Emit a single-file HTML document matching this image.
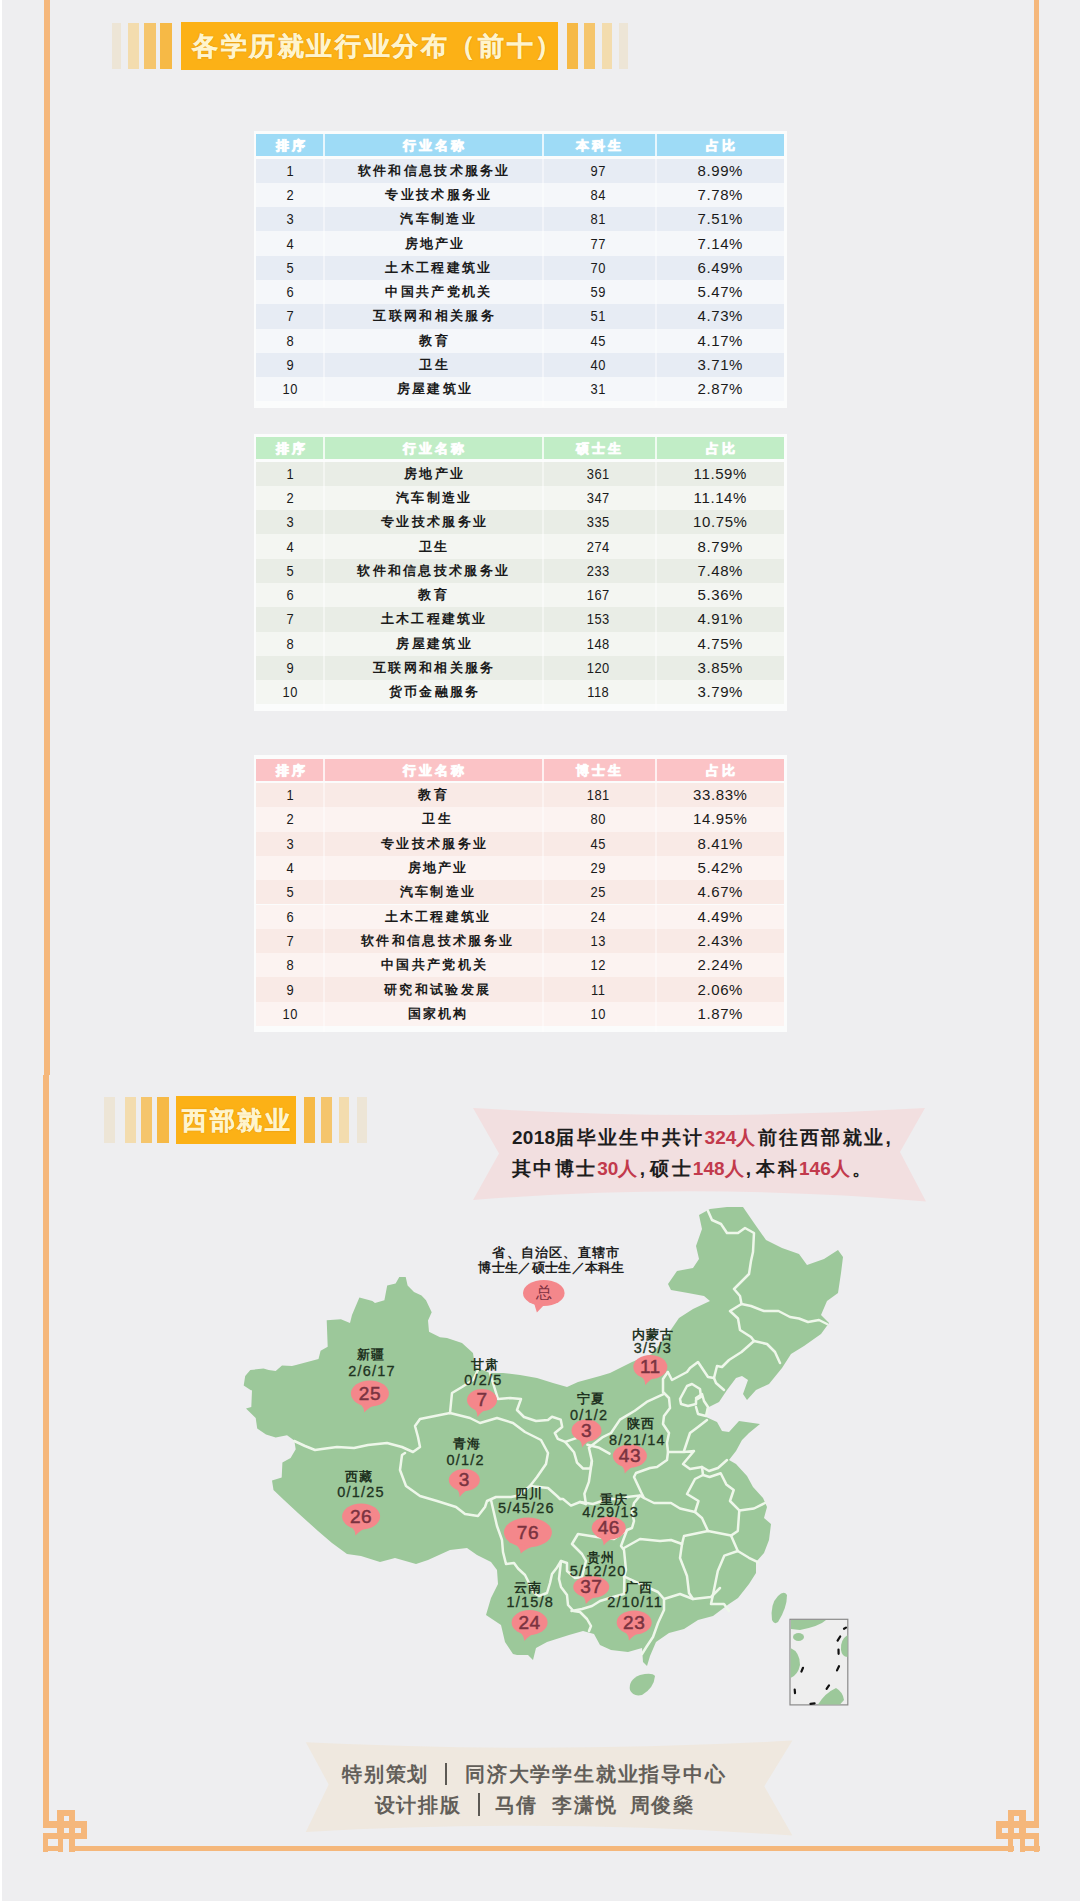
<!DOCTYPE html>
<html><head><meta charset="utf-8"><style>
html,body{margin:0;padding:0;}
body{width:1080px;height:1901px;position:relative;overflow:hidden;background:#eeeef0;font-family:"Liberation Sans", sans-serif;}
</style></head><body>
<div style="position:absolute;left:0px;top:0px;width:1.5px;height:1901px;background:#ffffff;"></div><div style="position:absolute;left:44px;top:0px;width:5.6px;height:1075px;background:#f5b77b;"></div><div style="position:absolute;left:43.3px;top:1075px;width:5.5px;height:753px;background:#f5b77b;"></div><div style="position:absolute;left:1033.8px;top:0px;width:5.6px;height:1828px;background:#f5b77b;"></div><div style="position:absolute;left:69px;top:1846.3px;width:945px;height:5.2px;background:#f5b77b;"></div><div style="position:absolute;left:112px;top:23px;width:9.3px;height:46px;background:#ede5d6;"></div><div style="position:absolute;left:128px;top:23px;width:11px;height:46px;background:#f3dcae;"></div><div style="position:absolute;left:144.4px;top:23px;width:11.2px;height:46px;background:#f5c56c;"></div><div style="position:absolute;left:160px;top:23px;width:12px;height:46px;background:#f6b946;"></div><div style="position:absolute;left:567px;top:23px;width:11px;height:46px;background:#f6b946;"></div><div style="position:absolute;left:584.4px;top:23px;width:10.6px;height:46px;background:#f5c56c;"></div><div style="position:absolute;left:601.7px;top:23px;width:10.3px;height:46px;background:#f3dcae;"></div><div style="position:absolute;left:619px;top:23px;width:9px;height:46px;background:#ede5d6;"></div><div style="position:absolute;left:181px;top:22px;width:377.3px;height:48px;background:#fcb116;"></div><div style="position:absolute;left:192px;top:33px;font-size:26px;line-height:26px;color:#fff4cc;font-weight:bold;-webkit-text-stroke:0.4px #fff4cc;text-shadow:0 0 1.5px rgba(150,80,0,0.6);letter-spacing:2.6px;white-space:nowrap">各学历就业行业分布（前十）</div><div style="position:absolute;left:104.3px;top:1097px;width:10.7px;height:46px;background:#ede5d6;"></div><div style="position:absolute;left:125px;top:1097px;width:10.7px;height:46px;background:#f3dcae;"></div><div style="position:absolute;left:141.3px;top:1097px;width:11.1px;height:46px;background:#f5c56c;"></div><div style="position:absolute;left:157.2px;top:1097px;width:11.4px;height:46px;background:#f6b946;"></div><div style="position:absolute;left:303.9px;top:1097px;width:11.1px;height:46px;background:#f6b946;"></div><div style="position:absolute;left:320.7px;top:1097px;width:11.2px;height:46px;background:#f5c56c;"></div><div style="position:absolute;left:338.5px;top:1097px;width:10.5px;height:46px;background:#f3dcae;"></div><div style="position:absolute;left:356.9px;top:1097px;width:10.1px;height:46px;background:#ede5d6;"></div><div style="position:absolute;left:175.6px;top:1096px;width:120.1px;height:48px;background:#fcb116;"></div><div style="position:absolute;left:182px;top:1108px;font-size:25px;line-height:25px;color:#fff4cc;font-weight:bold;-webkit-text-stroke:0.4px #fff4cc;text-shadow:0 0 1.5px rgba(150,80,0,0.6);letter-spacing:2.5px;white-space:nowrap">西部就业</div><div style="position:absolute;left:253.5px;top:130.5px;width:533px;height:277px;background:#fbfcfc;"></div><div style="position:absolute;left:256px;top:134px;width:528px;height:22px;background:#9edbf6;"></div><div style="position:absolute;left:256px;top:158.5px;width:528px;height:24.3px;background:#e7ecf4;"></div><div style="position:absolute;left:256px;top:182.8px;width:528px;height:24.3px;background:#f5f7fa;"></div><div style="position:absolute;left:256px;top:207.1px;width:528px;height:24.3px;background:#e7ecf4;"></div><div style="position:absolute;left:256px;top:231.4px;width:528px;height:24.3px;background:#f5f7fa;"></div><div style="position:absolute;left:256px;top:255.7px;width:528px;height:24.3px;background:#e7ecf4;"></div><div style="position:absolute;left:256px;top:280px;width:528px;height:24.3px;background:#f5f7fa;"></div><div style="position:absolute;left:256px;top:304.3px;width:528px;height:24.3px;background:#e7ecf4;"></div><div style="position:absolute;left:256px;top:328.6px;width:528px;height:24.3px;background:#f5f7fa;"></div><div style="position:absolute;left:256px;top:352.9px;width:528px;height:24.3px;background:#e7ecf4;"></div><div style="position:absolute;left:256px;top:377.2px;width:528px;height:24.3px;background:#f5f7fa;"></div><div style="position:absolute;left:323.2px;top:134px;width:1.6px;height:22px;background:rgba(255,255,255,0.75);"></div><div style="position:absolute;left:323.3px;top:158px;width:1.4px;height:249px;background:rgba(255,255,255,0.45);"></div><div style="position:absolute;left:542.2px;top:134px;width:1.6px;height:22px;background:rgba(255,255,255,0.75);"></div><div style="position:absolute;left:542.3px;top:158px;width:1.4px;height:249px;background:rgba(255,255,255,0.45);"></div><div style="position:absolute;left:655.2px;top:134px;width:1.6px;height:22px;background:rgba(255,255,255,0.75);"></div><div style="position:absolute;left:655.3px;top:158px;width:1.4px;height:249px;background:rgba(255,255,255,0.45);"></div><div style="position:absolute;left:190px;top:135.3px;width:200px;height:22px;line-height:22px;text-align:center;font-size:13px;color:#ffffff;white-space:nowrap;font-weight:bold;letter-spacing:3px;text-indent:3px;-webkit-text-stroke:0.5px #fff;text-shadow:0 0 1.5px rgba(255,255,255,0.8)">排序</div><div style="position:absolute;left:333px;top:135.3px;width:200px;height:22px;line-height:22px;text-align:center;font-size:13px;color:#ffffff;white-space:nowrap;font-weight:bold;letter-spacing:3px;text-indent:3px;-webkit-text-stroke:0.5px #fff;text-shadow:0 0 1.5px rgba(255,255,255,0.8)">行业名称</div><div style="position:absolute;left:498px;top:135.3px;width:200px;height:22px;line-height:22px;text-align:center;font-size:13px;color:#ffffff;white-space:nowrap;font-weight:bold;letter-spacing:3px;text-indent:3px;-webkit-text-stroke:0.5px #fff;text-shadow:0 0 1.5px rgba(255,255,255,0.8)">本科生</div><div style="position:absolute;left:620px;top:135.3px;width:200px;height:22px;line-height:22px;text-align:center;font-size:13px;color:#ffffff;white-space:nowrap;font-weight:bold;letter-spacing:3px;text-indent:3px;-webkit-text-stroke:0.5px #fff;text-shadow:0 0 1.5px rgba(255,255,255,0.8)">占比</div><div style="position:absolute;left:230px;top:158.65px;width:120px;height:24px;line-height:24px;text-align:center;font-size:15px;color:#1a1a1a;white-space:nowrap;letter-spacing:0.6px;text-indent:0.6px;transform:scaleX(0.86)">1</div><div style="position:absolute;left:323.1px;top:158.65px;width:220px;height:24px;line-height:24px;text-align:center;font-size:13px;color:#1a1a1a;white-space:nowrap;font-weight:bold;letter-spacing:2.3px;text-indent:2.3px">软件和信息技术服务业</div><div style="position:absolute;left:538px;top:158.65px;width:120px;height:24px;line-height:24px;text-align:center;font-size:15px;color:#1a1a1a;white-space:nowrap;letter-spacing:0.6px;text-indent:0.6px;transform:scaleX(0.86)">97</div><div style="position:absolute;left:660px;top:158.65px;width:120px;height:24px;line-height:24px;text-align:center;font-size:15px;color:#1a1a1a;white-space:nowrap;letter-spacing:0.6px;text-indent:0.6px">8.99%</div><div style="position:absolute;left:230px;top:182.95px;width:120px;height:24px;line-height:24px;text-align:center;font-size:15px;color:#1a1a1a;white-space:nowrap;letter-spacing:0.6px;text-indent:0.6px;transform:scaleX(0.86)">2</div><div style="position:absolute;left:327.9px;top:182.95px;width:220px;height:24px;line-height:24px;text-align:center;font-size:13px;color:#1a1a1a;white-space:nowrap;font-weight:bold;letter-spacing:2.3px;text-indent:2.3px">专业技术服务业</div><div style="position:absolute;left:538px;top:182.95px;width:120px;height:24px;line-height:24px;text-align:center;font-size:15px;color:#1a1a1a;white-space:nowrap;letter-spacing:0.6px;text-indent:0.6px;transform:scaleX(0.86)">84</div><div style="position:absolute;left:660px;top:182.95px;width:120px;height:24px;line-height:24px;text-align:center;font-size:15px;color:#1a1a1a;white-space:nowrap;letter-spacing:0.6px;text-indent:0.6px">7.78%</div><div style="position:absolute;left:230px;top:207.25px;width:120px;height:24px;line-height:24px;text-align:center;font-size:15px;color:#1a1a1a;white-space:nowrap;letter-spacing:0.6px;text-indent:0.6px;transform:scaleX(0.86)">3</div><div style="position:absolute;left:327.5px;top:207.25px;width:220px;height:24px;line-height:24px;text-align:center;font-size:13px;color:#1a1a1a;white-space:nowrap;font-weight:bold;letter-spacing:2.3px;text-indent:2.3px">汽车制造业</div><div style="position:absolute;left:538px;top:207.25px;width:120px;height:24px;line-height:24px;text-align:center;font-size:15px;color:#1a1a1a;white-space:nowrap;letter-spacing:0.6px;text-indent:0.6px;transform:scaleX(0.86)">81</div><div style="position:absolute;left:660px;top:207.25px;width:120px;height:24px;line-height:24px;text-align:center;font-size:15px;color:#1a1a1a;white-space:nowrap;letter-spacing:0.6px;text-indent:0.6px">7.51%</div><div style="position:absolute;left:230px;top:231.55px;width:120px;height:24px;line-height:24px;text-align:center;font-size:15px;color:#1a1a1a;white-space:nowrap;letter-spacing:0.6px;text-indent:0.6px;transform:scaleX(0.86)">4</div><div style="position:absolute;left:324px;top:231.55px;width:220px;height:24px;line-height:24px;text-align:center;font-size:13px;color:#1a1a1a;white-space:nowrap;font-weight:bold;letter-spacing:2.3px;text-indent:2.3px">房地产业</div><div style="position:absolute;left:538px;top:231.55px;width:120px;height:24px;line-height:24px;text-align:center;font-size:15px;color:#1a1a1a;white-space:nowrap;letter-spacing:0.6px;text-indent:0.6px;transform:scaleX(0.86)">77</div><div style="position:absolute;left:660px;top:231.55px;width:120px;height:24px;line-height:24px;text-align:center;font-size:15px;color:#1a1a1a;white-space:nowrap;letter-spacing:0.6px;text-indent:0.6px">7.14%</div><div style="position:absolute;left:230px;top:255.85px;width:120px;height:24px;line-height:24px;text-align:center;font-size:15px;color:#1a1a1a;white-space:nowrap;letter-spacing:0.6px;text-indent:0.6px;transform:scaleX(0.86)">5</div><div style="position:absolute;left:327.9px;top:255.85px;width:220px;height:24px;line-height:24px;text-align:center;font-size:13px;color:#1a1a1a;white-space:nowrap;font-weight:bold;letter-spacing:2.3px;text-indent:2.3px">土木工程建筑业</div><div style="position:absolute;left:538px;top:255.85px;width:120px;height:24px;line-height:24px;text-align:center;font-size:15px;color:#1a1a1a;white-space:nowrap;letter-spacing:0.6px;text-indent:0.6px;transform:scaleX(0.86)">70</div><div style="position:absolute;left:660px;top:255.85px;width:120px;height:24px;line-height:24px;text-align:center;font-size:15px;color:#1a1a1a;white-space:nowrap;letter-spacing:0.6px;text-indent:0.6px">6.49%</div><div style="position:absolute;left:230px;top:280.15px;width:120px;height:24px;line-height:24px;text-align:center;font-size:15px;color:#1a1a1a;white-space:nowrap;letter-spacing:0.6px;text-indent:0.6px;transform:scaleX(0.86)">6</div><div style="position:absolute;left:327.9px;top:280.15px;width:220px;height:24px;line-height:24px;text-align:center;font-size:13px;color:#1a1a1a;white-space:nowrap;font-weight:bold;letter-spacing:2.3px;text-indent:2.3px">中国共产党机关</div><div style="position:absolute;left:538px;top:280.15px;width:120px;height:24px;line-height:24px;text-align:center;font-size:15px;color:#1a1a1a;white-space:nowrap;letter-spacing:0.6px;text-indent:0.6px;transform:scaleX(0.86)">59</div><div style="position:absolute;left:660px;top:280.15px;width:120px;height:24px;line-height:24px;text-align:center;font-size:15px;color:#1a1a1a;white-space:nowrap;letter-spacing:0.6px;text-indent:0.6px">5.47%</div><div style="position:absolute;left:230px;top:304.45px;width:120px;height:24px;line-height:24px;text-align:center;font-size:15px;color:#1a1a1a;white-space:nowrap;letter-spacing:0.6px;text-indent:0.6px;transform:scaleX(0.86)">7</div><div style="position:absolute;left:323.5px;top:304.45px;width:220px;height:24px;line-height:24px;text-align:center;font-size:13px;color:#1a1a1a;white-space:nowrap;font-weight:bold;letter-spacing:2.3px;text-indent:2.3px">互联网和相关服务</div><div style="position:absolute;left:538px;top:304.45px;width:120px;height:24px;line-height:24px;text-align:center;font-size:15px;color:#1a1a1a;white-space:nowrap;letter-spacing:0.6px;text-indent:0.6px;transform:scaleX(0.86)">51</div><div style="position:absolute;left:660px;top:304.45px;width:120px;height:24px;line-height:24px;text-align:center;font-size:15px;color:#1a1a1a;white-space:nowrap;letter-spacing:0.6px;text-indent:0.6px">4.73%</div><div style="position:absolute;left:230px;top:328.75px;width:120px;height:24px;line-height:24px;text-align:center;font-size:15px;color:#1a1a1a;white-space:nowrap;letter-spacing:0.6px;text-indent:0.6px;transform:scaleX(0.86)">8</div><div style="position:absolute;left:323.5px;top:328.75px;width:220px;height:24px;line-height:24px;text-align:center;font-size:13px;color:#1a1a1a;white-space:nowrap;font-weight:bold;letter-spacing:2.3px;text-indent:2.3px">教育</div><div style="position:absolute;left:538px;top:328.75px;width:120px;height:24px;line-height:24px;text-align:center;font-size:15px;color:#1a1a1a;white-space:nowrap;letter-spacing:0.6px;text-indent:0.6px;transform:scaleX(0.86)">45</div><div style="position:absolute;left:660px;top:328.75px;width:120px;height:24px;line-height:24px;text-align:center;font-size:15px;color:#1a1a1a;white-space:nowrap;letter-spacing:0.6px;text-indent:0.6px">4.17%</div><div style="position:absolute;left:230px;top:353.05px;width:120px;height:24px;line-height:24px;text-align:center;font-size:15px;color:#1a1a1a;white-space:nowrap;letter-spacing:0.6px;text-indent:0.6px;transform:scaleX(0.86)">9</div><div style="position:absolute;left:323.5px;top:353.05px;width:220px;height:24px;line-height:24px;text-align:center;font-size:13px;color:#1a1a1a;white-space:nowrap;font-weight:bold;letter-spacing:2.3px;text-indent:2.3px">卫生</div><div style="position:absolute;left:538px;top:353.05px;width:120px;height:24px;line-height:24px;text-align:center;font-size:15px;color:#1a1a1a;white-space:nowrap;letter-spacing:0.6px;text-indent:0.6px;transform:scaleX(0.86)">40</div><div style="position:absolute;left:660px;top:353.05px;width:120px;height:24px;line-height:24px;text-align:center;font-size:15px;color:#1a1a1a;white-space:nowrap;letter-spacing:0.6px;text-indent:0.6px">3.71%</div><div style="position:absolute;left:230px;top:377.35px;width:120px;height:24px;line-height:24px;text-align:center;font-size:15px;color:#1a1a1a;white-space:nowrap;letter-spacing:0.6px;text-indent:0.6px;transform:scaleX(0.86)">10</div><div style="position:absolute;left:324px;top:377.35px;width:220px;height:24px;line-height:24px;text-align:center;font-size:13px;color:#1a1a1a;white-space:nowrap;font-weight:bold;letter-spacing:2.3px;text-indent:2.3px">房屋建筑业</div><div style="position:absolute;left:538px;top:377.35px;width:120px;height:24px;line-height:24px;text-align:center;font-size:15px;color:#1a1a1a;white-space:nowrap;letter-spacing:0.6px;text-indent:0.6px;transform:scaleX(0.86)">31</div><div style="position:absolute;left:660px;top:377.35px;width:120px;height:24px;line-height:24px;text-align:center;font-size:15px;color:#1a1a1a;white-space:nowrap;letter-spacing:0.6px;text-indent:0.6px">2.87%</div><div style="position:absolute;left:253.5px;top:433.5px;width:533px;height:277px;background:#fbfcfc;"></div><div style="position:absolute;left:256px;top:437px;width:528px;height:22px;background:#c1edc6;"></div><div style="position:absolute;left:256px;top:461.5px;width:528px;height:24.3px;background:#e9ede6;"></div><div style="position:absolute;left:256px;top:485.8px;width:528px;height:24.3px;background:#f4f6f2;"></div><div style="position:absolute;left:256px;top:510.1px;width:528px;height:24.3px;background:#e9ede6;"></div><div style="position:absolute;left:256px;top:534.4px;width:528px;height:24.3px;background:#f4f6f2;"></div><div style="position:absolute;left:256px;top:558.7px;width:528px;height:24.3px;background:#e9ede6;"></div><div style="position:absolute;left:256px;top:583px;width:528px;height:24.3px;background:#f4f6f2;"></div><div style="position:absolute;left:256px;top:607.3px;width:528px;height:24.3px;background:#e9ede6;"></div><div style="position:absolute;left:256px;top:631.6px;width:528px;height:24.3px;background:#f4f6f2;"></div><div style="position:absolute;left:256px;top:655.9px;width:528px;height:24.3px;background:#e9ede6;"></div><div style="position:absolute;left:256px;top:680.2px;width:528px;height:24.3px;background:#f4f6f2;"></div><div style="position:absolute;left:323.2px;top:437px;width:1.6px;height:22px;background:rgba(255,255,255,0.75);"></div><div style="position:absolute;left:323.3px;top:461px;width:1.4px;height:249px;background:rgba(255,255,255,0.45);"></div><div style="position:absolute;left:542.2px;top:437px;width:1.6px;height:22px;background:rgba(255,255,255,0.75);"></div><div style="position:absolute;left:542.3px;top:461px;width:1.4px;height:249px;background:rgba(255,255,255,0.45);"></div><div style="position:absolute;left:655.2px;top:437px;width:1.6px;height:22px;background:rgba(255,255,255,0.75);"></div><div style="position:absolute;left:655.3px;top:461px;width:1.4px;height:249px;background:rgba(255,255,255,0.45);"></div><div style="position:absolute;left:190px;top:438.3px;width:200px;height:22px;line-height:22px;text-align:center;font-size:13px;color:#ffffff;white-space:nowrap;font-weight:bold;letter-spacing:3px;text-indent:3px;-webkit-text-stroke:0.5px #fff;text-shadow:0 0 1.5px rgba(255,255,255,0.8)">排序</div><div style="position:absolute;left:333px;top:438.3px;width:200px;height:22px;line-height:22px;text-align:center;font-size:13px;color:#ffffff;white-space:nowrap;font-weight:bold;letter-spacing:3px;text-indent:3px;-webkit-text-stroke:0.5px #fff;text-shadow:0 0 1.5px rgba(255,255,255,0.8)">行业名称</div><div style="position:absolute;left:498px;top:438.3px;width:200px;height:22px;line-height:22px;text-align:center;font-size:13px;color:#ffffff;white-space:nowrap;font-weight:bold;letter-spacing:3px;text-indent:3px;-webkit-text-stroke:0.5px #fff;text-shadow:0 0 1.5px rgba(255,255,255,0.8)">硕士生</div><div style="position:absolute;left:620px;top:438.3px;width:200px;height:22px;line-height:22px;text-align:center;font-size:13px;color:#ffffff;white-space:nowrap;font-weight:bold;letter-spacing:3px;text-indent:3px;-webkit-text-stroke:0.5px #fff;text-shadow:0 0 1.5px rgba(255,255,255,0.8)">占比</div><div style="position:absolute;left:230px;top:461.65px;width:120px;height:24px;line-height:24px;text-align:center;font-size:15px;color:#1a1a1a;white-space:nowrap;letter-spacing:0.6px;text-indent:0.6px;transform:scaleX(0.86)">1</div><div style="position:absolute;left:323.5px;top:461.65px;width:220px;height:24px;line-height:24px;text-align:center;font-size:13px;color:#1a1a1a;white-space:nowrap;font-weight:bold;letter-spacing:2.3px;text-indent:2.3px">房地产业</div><div style="position:absolute;left:538px;top:461.65px;width:120px;height:24px;line-height:24px;text-align:center;font-size:15px;color:#1a1a1a;white-space:nowrap;letter-spacing:0.6px;text-indent:0.6px;transform:scaleX(0.86)">361</div><div style="position:absolute;left:660px;top:461.65px;width:120px;height:24px;line-height:24px;text-align:center;font-size:15px;color:#1a1a1a;white-space:nowrap;letter-spacing:0.6px;text-indent:0.6px">11.59%</div><div style="position:absolute;left:230px;top:485.95px;width:120px;height:24px;line-height:24px;text-align:center;font-size:15px;color:#1a1a1a;white-space:nowrap;letter-spacing:0.6px;text-indent:0.6px;transform:scaleX(0.86)">2</div><div style="position:absolute;left:323.1px;top:485.95px;width:220px;height:24px;line-height:24px;text-align:center;font-size:13px;color:#1a1a1a;white-space:nowrap;font-weight:bold;letter-spacing:2.3px;text-indent:2.3px">汽车制造业</div><div style="position:absolute;left:538px;top:485.95px;width:120px;height:24px;line-height:24px;text-align:center;font-size:15px;color:#1a1a1a;white-space:nowrap;letter-spacing:0.6px;text-indent:0.6px;transform:scaleX(0.86)">347</div><div style="position:absolute;left:660px;top:485.95px;width:120px;height:24px;line-height:24px;text-align:center;font-size:15px;color:#1a1a1a;white-space:nowrap;letter-spacing:0.6px;text-indent:0.6px">11.14%</div><div style="position:absolute;left:230px;top:510.25px;width:120px;height:24px;line-height:24px;text-align:center;font-size:15px;color:#1a1a1a;white-space:nowrap;letter-spacing:0.6px;text-indent:0.6px;transform:scaleX(0.86)">3</div><div style="position:absolute;left:323.5px;top:510.25px;width:220px;height:24px;line-height:24px;text-align:center;font-size:13px;color:#1a1a1a;white-space:nowrap;font-weight:bold;letter-spacing:2.3px;text-indent:2.3px">专业技术服务业</div><div style="position:absolute;left:538px;top:510.25px;width:120px;height:24px;line-height:24px;text-align:center;font-size:15px;color:#1a1a1a;white-space:nowrap;letter-spacing:0.6px;text-indent:0.6px;transform:scaleX(0.86)">335</div><div style="position:absolute;left:660px;top:510.25px;width:120px;height:24px;line-height:24px;text-align:center;font-size:15px;color:#1a1a1a;white-space:nowrap;letter-spacing:0.6px;text-indent:0.6px">10.75%</div><div style="position:absolute;left:230px;top:534.55px;width:120px;height:24px;line-height:24px;text-align:center;font-size:15px;color:#1a1a1a;white-space:nowrap;letter-spacing:0.6px;text-indent:0.6px;transform:scaleX(0.86)">4</div><div style="position:absolute;left:323.1px;top:534.55px;width:220px;height:24px;line-height:24px;text-align:center;font-size:13px;color:#1a1a1a;white-space:nowrap;font-weight:bold;letter-spacing:2.3px;text-indent:2.3px">卫生</div><div style="position:absolute;left:538px;top:534.55px;width:120px;height:24px;line-height:24px;text-align:center;font-size:15px;color:#1a1a1a;white-space:nowrap;letter-spacing:0.6px;text-indent:0.6px;transform:scaleX(0.86)">274</div><div style="position:absolute;left:660px;top:534.55px;width:120px;height:24px;line-height:24px;text-align:center;font-size:15px;color:#1a1a1a;white-space:nowrap;letter-spacing:0.6px;text-indent:0.6px">8.79%</div><div style="position:absolute;left:230px;top:558.85px;width:120px;height:24px;line-height:24px;text-align:center;font-size:15px;color:#1a1a1a;white-space:nowrap;letter-spacing:0.6px;text-indent:0.6px;transform:scaleX(0.86)">5</div><div style="position:absolute;left:322.6px;top:558.85px;width:220px;height:24px;line-height:24px;text-align:center;font-size:13px;color:#1a1a1a;white-space:nowrap;font-weight:bold;letter-spacing:2.3px;text-indent:2.3px">软件和信息技术服务业</div><div style="position:absolute;left:538px;top:558.85px;width:120px;height:24px;line-height:24px;text-align:center;font-size:15px;color:#1a1a1a;white-space:nowrap;letter-spacing:0.6px;text-indent:0.6px;transform:scaleX(0.86)">233</div><div style="position:absolute;left:660px;top:558.85px;width:120px;height:24px;line-height:24px;text-align:center;font-size:15px;color:#1a1a1a;white-space:nowrap;letter-spacing:0.6px;text-indent:0.6px">7.48%</div><div style="position:absolute;left:230px;top:583.15px;width:120px;height:24px;line-height:24px;text-align:center;font-size:15px;color:#1a1a1a;white-space:nowrap;letter-spacing:0.6px;text-indent:0.6px;transform:scaleX(0.86)">6</div><div style="position:absolute;left:322.5px;top:583.15px;width:220px;height:24px;line-height:24px;text-align:center;font-size:13px;color:#1a1a1a;white-space:nowrap;font-weight:bold;letter-spacing:2.3px;text-indent:2.3px">教育</div><div style="position:absolute;left:538px;top:583.15px;width:120px;height:24px;line-height:24px;text-align:center;font-size:15px;color:#1a1a1a;white-space:nowrap;letter-spacing:0.6px;text-indent:0.6px;transform:scaleX(0.86)">167</div><div style="position:absolute;left:660px;top:583.15px;width:120px;height:24px;line-height:24px;text-align:center;font-size:15px;color:#1a1a1a;white-space:nowrap;letter-spacing:0.6px;text-indent:0.6px">5.36%</div><div style="position:absolute;left:230px;top:607.45px;width:120px;height:24px;line-height:24px;text-align:center;font-size:15px;color:#1a1a1a;white-space:nowrap;letter-spacing:0.6px;text-indent:0.6px;transform:scaleX(0.86)">7</div><div style="position:absolute;left:323.1px;top:607.45px;width:220px;height:24px;line-height:24px;text-align:center;font-size:13px;color:#1a1a1a;white-space:nowrap;font-weight:bold;letter-spacing:2.3px;text-indent:2.3px">土木工程建筑业</div><div style="position:absolute;left:538px;top:607.45px;width:120px;height:24px;line-height:24px;text-align:center;font-size:15px;color:#1a1a1a;white-space:nowrap;letter-spacing:0.6px;text-indent:0.6px;transform:scaleX(0.86)">153</div><div style="position:absolute;left:660px;top:607.45px;width:120px;height:24px;line-height:24px;text-align:center;font-size:15px;color:#1a1a1a;white-space:nowrap;letter-spacing:0.6px;text-indent:0.6px">4.91%</div><div style="position:absolute;left:230px;top:631.75px;width:120px;height:24px;line-height:24px;text-align:center;font-size:15px;color:#1a1a1a;white-space:nowrap;letter-spacing:0.6px;text-indent:0.6px;transform:scaleX(0.86)">8</div><div style="position:absolute;left:323.5px;top:631.75px;width:220px;height:24px;line-height:24px;text-align:center;font-size:13px;color:#1a1a1a;white-space:nowrap;font-weight:bold;letter-spacing:2.3px;text-indent:2.3px">房屋建筑业</div><div style="position:absolute;left:538px;top:631.75px;width:120px;height:24px;line-height:24px;text-align:center;font-size:15px;color:#1a1a1a;white-space:nowrap;letter-spacing:0.6px;text-indent:0.6px;transform:scaleX(0.86)">148</div><div style="position:absolute;left:660px;top:631.75px;width:120px;height:24px;line-height:24px;text-align:center;font-size:15px;color:#1a1a1a;white-space:nowrap;letter-spacing:0.6px;text-indent:0.6px">4.75%</div><div style="position:absolute;left:230px;top:656.05px;width:120px;height:24px;line-height:24px;text-align:center;font-size:15px;color:#1a1a1a;white-space:nowrap;letter-spacing:0.6px;text-indent:0.6px;transform:scaleX(0.86)">9</div><div style="position:absolute;left:323.1px;top:656.05px;width:220px;height:24px;line-height:24px;text-align:center;font-size:13px;color:#1a1a1a;white-space:nowrap;font-weight:bold;letter-spacing:2.3px;text-indent:2.3px">互联网和相关服务</div><div style="position:absolute;left:538px;top:656.05px;width:120px;height:24px;line-height:24px;text-align:center;font-size:15px;color:#1a1a1a;white-space:nowrap;letter-spacing:0.6px;text-indent:0.6px;transform:scaleX(0.86)">120</div><div style="position:absolute;left:660px;top:656.05px;width:120px;height:24px;line-height:24px;text-align:center;font-size:15px;color:#1a1a1a;white-space:nowrap;letter-spacing:0.6px;text-indent:0.6px">3.85%</div><div style="position:absolute;left:230px;top:680.35px;width:120px;height:24px;line-height:24px;text-align:center;font-size:15px;color:#1a1a1a;white-space:nowrap;letter-spacing:0.6px;text-indent:0.6px;transform:scaleX(0.86)">10</div><div style="position:absolute;left:323.5px;top:680.35px;width:220px;height:24px;line-height:24px;text-align:center;font-size:13px;color:#1a1a1a;white-space:nowrap;font-weight:bold;letter-spacing:2.3px;text-indent:2.3px">货币金融服务</div><div style="position:absolute;left:538px;top:680.35px;width:120px;height:24px;line-height:24px;text-align:center;font-size:15px;color:#1a1a1a;white-space:nowrap;letter-spacing:0.6px;text-indent:0.6px;transform:scaleX(0.86)">118</div><div style="position:absolute;left:660px;top:680.35px;width:120px;height:24px;line-height:24px;text-align:center;font-size:15px;color:#1a1a1a;white-space:nowrap;letter-spacing:0.6px;text-indent:0.6px">3.79%</div><div style="position:absolute;left:253.5px;top:755px;width:533px;height:277px;background:#fbfcfc;"></div><div style="position:absolute;left:256px;top:758.5px;width:528px;height:22px;background:#fbc3c6;"></div><div style="position:absolute;left:256px;top:783px;width:528px;height:24.3px;background:#f9eae6;"></div><div style="position:absolute;left:256px;top:807.3px;width:528px;height:24.3px;background:#fcf3f1;"></div><div style="position:absolute;left:256px;top:831.6px;width:528px;height:24.3px;background:#f9eae6;"></div><div style="position:absolute;left:256px;top:855.9px;width:528px;height:24.3px;background:#fcf3f1;"></div><div style="position:absolute;left:256px;top:880.2px;width:528px;height:24.3px;background:#f9eae6;"></div><div style="position:absolute;left:256px;top:904.5px;width:528px;height:24.3px;background:#fcf3f1;"></div><div style="position:absolute;left:256px;top:928.8px;width:528px;height:24.3px;background:#f9eae6;"></div><div style="position:absolute;left:256px;top:953.1px;width:528px;height:24.3px;background:#fcf3f1;"></div><div style="position:absolute;left:256px;top:977.4px;width:528px;height:24.3px;background:#f9eae6;"></div><div style="position:absolute;left:256px;top:1001.7px;width:528px;height:24.3px;background:#fcf3f1;"></div><div style="position:absolute;left:323.2px;top:758.5px;width:1.6px;height:22px;background:rgba(255,255,255,0.75);"></div><div style="position:absolute;left:323.3px;top:782.5px;width:1.4px;height:249px;background:rgba(255,255,255,0.45);"></div><div style="position:absolute;left:542.2px;top:758.5px;width:1.6px;height:22px;background:rgba(255,255,255,0.75);"></div><div style="position:absolute;left:542.3px;top:782.5px;width:1.4px;height:249px;background:rgba(255,255,255,0.45);"></div><div style="position:absolute;left:655.2px;top:758.5px;width:1.6px;height:22px;background:rgba(255,255,255,0.75);"></div><div style="position:absolute;left:655.3px;top:782.5px;width:1.4px;height:249px;background:rgba(255,255,255,0.45);"></div><div style="position:absolute;left:190px;top:759.8px;width:200px;height:22px;line-height:22px;text-align:center;font-size:13px;color:#ffffff;white-space:nowrap;font-weight:bold;letter-spacing:3px;text-indent:3px;-webkit-text-stroke:0.5px #fff;text-shadow:0 0 1.5px rgba(255,255,255,0.8)">排序</div><div style="position:absolute;left:333px;top:759.8px;width:200px;height:22px;line-height:22px;text-align:center;font-size:13px;color:#ffffff;white-space:nowrap;font-weight:bold;letter-spacing:3px;text-indent:3px;-webkit-text-stroke:0.5px #fff;text-shadow:0 0 1.5px rgba(255,255,255,0.8)">行业名称</div><div style="position:absolute;left:498px;top:759.8px;width:200px;height:22px;line-height:22px;text-align:center;font-size:13px;color:#ffffff;white-space:nowrap;font-weight:bold;letter-spacing:3px;text-indent:3px;-webkit-text-stroke:0.5px #fff;text-shadow:0 0 1.5px rgba(255,255,255,0.8)">博士生</div><div style="position:absolute;left:620px;top:759.8px;width:200px;height:22px;line-height:22px;text-align:center;font-size:13px;color:#ffffff;white-space:nowrap;font-weight:bold;letter-spacing:3px;text-indent:3px;-webkit-text-stroke:0.5px #fff;text-shadow:0 0 1.5px rgba(255,255,255,0.8)">占比</div><div style="position:absolute;left:230px;top:783.15px;width:120px;height:24px;line-height:24px;text-align:center;font-size:15px;color:#1a1a1a;white-space:nowrap;letter-spacing:0.6px;text-indent:0.6px;transform:scaleX(0.86)">1</div><div style="position:absolute;left:322.6px;top:783.15px;width:220px;height:24px;line-height:24px;text-align:center;font-size:13px;color:#1a1a1a;white-space:nowrap;font-weight:bold;letter-spacing:2.3px;text-indent:2.3px">教育</div><div style="position:absolute;left:538px;top:783.15px;width:120px;height:24px;line-height:24px;text-align:center;font-size:15px;color:#1a1a1a;white-space:nowrap;letter-spacing:0.6px;text-indent:0.6px;transform:scaleX(0.86)">181</div><div style="position:absolute;left:660px;top:783.15px;width:120px;height:24px;line-height:24px;text-align:center;font-size:15px;color:#1a1a1a;white-space:nowrap;letter-spacing:0.6px;text-indent:0.6px">33.83%</div><div style="position:absolute;left:230px;top:807.45px;width:120px;height:24px;line-height:24px;text-align:center;font-size:15px;color:#1a1a1a;white-space:nowrap;letter-spacing:0.6px;text-indent:0.6px;transform:scaleX(0.86)">2</div><div style="position:absolute;left:326.5px;top:807.45px;width:220px;height:24px;line-height:24px;text-align:center;font-size:13px;color:#1a1a1a;white-space:nowrap;font-weight:bold;letter-spacing:2.3px;text-indent:2.3px">卫生</div><div style="position:absolute;left:538px;top:807.45px;width:120px;height:24px;line-height:24px;text-align:center;font-size:15px;color:#1a1a1a;white-space:nowrap;letter-spacing:0.6px;text-indent:0.6px;transform:scaleX(0.86)">80</div><div style="position:absolute;left:660px;top:807.45px;width:120px;height:24px;line-height:24px;text-align:center;font-size:15px;color:#1a1a1a;white-space:nowrap;letter-spacing:0.6px;text-indent:0.6px">14.95%</div><div style="position:absolute;left:230px;top:831.75px;width:120px;height:24px;line-height:24px;text-align:center;font-size:15px;color:#1a1a1a;white-space:nowrap;letter-spacing:0.6px;text-indent:0.6px;transform:scaleX(0.86)">3</div><div style="position:absolute;left:323.5px;top:831.75px;width:220px;height:24px;line-height:24px;text-align:center;font-size:13px;color:#1a1a1a;white-space:nowrap;font-weight:bold;letter-spacing:2.3px;text-indent:2.3px">专业技术服务业</div><div style="position:absolute;left:538px;top:831.75px;width:120px;height:24px;line-height:24px;text-align:center;font-size:15px;color:#1a1a1a;white-space:nowrap;letter-spacing:0.6px;text-indent:0.6px;transform:scaleX(0.86)">45</div><div style="position:absolute;left:660px;top:831.75px;width:120px;height:24px;line-height:24px;text-align:center;font-size:15px;color:#1a1a1a;white-space:nowrap;letter-spacing:0.6px;text-indent:0.6px">8.41%</div><div style="position:absolute;left:230px;top:856.05px;width:120px;height:24px;line-height:24px;text-align:center;font-size:15px;color:#1a1a1a;white-space:nowrap;letter-spacing:0.6px;text-indent:0.6px;transform:scaleX(0.86)">4</div><div style="position:absolute;left:327px;top:856.05px;width:220px;height:24px;line-height:24px;text-align:center;font-size:13px;color:#1a1a1a;white-space:nowrap;font-weight:bold;letter-spacing:2.3px;text-indent:2.3px">房地产业</div><div style="position:absolute;left:538px;top:856.05px;width:120px;height:24px;line-height:24px;text-align:center;font-size:15px;color:#1a1a1a;white-space:nowrap;letter-spacing:0.6px;text-indent:0.6px;transform:scaleX(0.86)">29</div><div style="position:absolute;left:660px;top:856.05px;width:120px;height:24px;line-height:24px;text-align:center;font-size:15px;color:#1a1a1a;white-space:nowrap;letter-spacing:0.6px;text-indent:0.6px">5.42%</div><div style="position:absolute;left:230px;top:880.35px;width:120px;height:24px;line-height:24px;text-align:center;font-size:15px;color:#1a1a1a;white-space:nowrap;letter-spacing:0.6px;text-indent:0.6px;transform:scaleX(0.86)">5</div><div style="position:absolute;left:327px;top:880.35px;width:220px;height:24px;line-height:24px;text-align:center;font-size:13px;color:#1a1a1a;white-space:nowrap;font-weight:bold;letter-spacing:2.3px;text-indent:2.3px">汽车制造业</div><div style="position:absolute;left:538px;top:880.35px;width:120px;height:24px;line-height:24px;text-align:center;font-size:15px;color:#1a1a1a;white-space:nowrap;letter-spacing:0.6px;text-indent:0.6px;transform:scaleX(0.86)">25</div><div style="position:absolute;left:660px;top:880.35px;width:120px;height:24px;line-height:24px;text-align:center;font-size:15px;color:#1a1a1a;white-space:nowrap;letter-spacing:0.6px;text-indent:0.6px">4.67%</div><div style="position:absolute;left:230px;top:904.65px;width:120px;height:24px;line-height:24px;text-align:center;font-size:15px;color:#1a1a1a;white-space:nowrap;letter-spacing:0.6px;text-indent:0.6px;transform:scaleX(0.86)">6</div><div style="position:absolute;left:327px;top:904.65px;width:220px;height:24px;line-height:24px;text-align:center;font-size:13px;color:#1a1a1a;white-space:nowrap;font-weight:bold;letter-spacing:2.3px;text-indent:2.3px">土木工程建筑业</div><div style="position:absolute;left:538px;top:904.65px;width:120px;height:24px;line-height:24px;text-align:center;font-size:15px;color:#1a1a1a;white-space:nowrap;letter-spacing:0.6px;text-indent:0.6px;transform:scaleX(0.86)">24</div><div style="position:absolute;left:660px;top:904.65px;width:120px;height:24px;line-height:24px;text-align:center;font-size:15px;color:#1a1a1a;white-space:nowrap;letter-spacing:0.6px;text-indent:0.6px">4.49%</div><div style="position:absolute;left:230px;top:928.95px;width:120px;height:24px;line-height:24px;text-align:center;font-size:15px;color:#1a1a1a;white-space:nowrap;letter-spacing:0.6px;text-indent:0.6px;transform:scaleX(0.86)">7</div><div style="position:absolute;left:326.5px;top:928.95px;width:220px;height:24px;line-height:24px;text-align:center;font-size:13px;color:#1a1a1a;white-space:nowrap;font-weight:bold;letter-spacing:2.3px;text-indent:2.3px">软件和信息技术服务业</div><div style="position:absolute;left:538px;top:928.95px;width:120px;height:24px;line-height:24px;text-align:center;font-size:15px;color:#1a1a1a;white-space:nowrap;letter-spacing:0.6px;text-indent:0.6px;transform:scaleX(0.86)">13</div><div style="position:absolute;left:660px;top:928.95px;width:120px;height:24px;line-height:24px;text-align:center;font-size:15px;color:#1a1a1a;white-space:nowrap;letter-spacing:0.6px;text-indent:0.6px">2.43%</div><div style="position:absolute;left:230px;top:953.25px;width:120px;height:24px;line-height:24px;text-align:center;font-size:15px;color:#1a1a1a;white-space:nowrap;letter-spacing:0.6px;text-indent:0.6px;transform:scaleX(0.86)">8</div><div style="position:absolute;left:323.5px;top:953.25px;width:220px;height:24px;line-height:24px;text-align:center;font-size:13px;color:#1a1a1a;white-space:nowrap;font-weight:bold;letter-spacing:2.3px;text-indent:2.3px">中国共产党机关</div><div style="position:absolute;left:538px;top:953.25px;width:120px;height:24px;line-height:24px;text-align:center;font-size:15px;color:#1a1a1a;white-space:nowrap;letter-spacing:0.6px;text-indent:0.6px;transform:scaleX(0.86)">12</div><div style="position:absolute;left:660px;top:953.25px;width:120px;height:24px;line-height:24px;text-align:center;font-size:15px;color:#1a1a1a;white-space:nowrap;letter-spacing:0.6px;text-indent:0.6px">2.24%</div><div style="position:absolute;left:230px;top:977.55px;width:120px;height:24px;line-height:24px;text-align:center;font-size:15px;color:#1a1a1a;white-space:nowrap;letter-spacing:0.6px;text-indent:0.6px;transform:scaleX(0.86)">9</div><div style="position:absolute;left:326.5px;top:977.55px;width:220px;height:24px;line-height:24px;text-align:center;font-size:13px;color:#1a1a1a;white-space:nowrap;font-weight:bold;letter-spacing:2.3px;text-indent:2.3px">研究和试验发展</div><div style="position:absolute;left:538px;top:977.55px;width:120px;height:24px;line-height:24px;text-align:center;font-size:15px;color:#1a1a1a;white-space:nowrap;letter-spacing:0.6px;text-indent:0.6px;transform:scaleX(0.86)">11</div><div style="position:absolute;left:660px;top:977.55px;width:120px;height:24px;line-height:24px;text-align:center;font-size:15px;color:#1a1a1a;white-space:nowrap;letter-spacing:0.6px;text-indent:0.6px">2.06%</div><div style="position:absolute;left:230px;top:1001.85px;width:120px;height:24px;line-height:24px;text-align:center;font-size:15px;color:#1a1a1a;white-space:nowrap;letter-spacing:0.6px;text-indent:0.6px;transform:scaleX(0.86)">10</div><div style="position:absolute;left:327px;top:1001.85px;width:220px;height:24px;line-height:24px;text-align:center;font-size:13px;color:#1a1a1a;white-space:nowrap;font-weight:bold;letter-spacing:2.3px;text-indent:2.3px">国家机构</div><div style="position:absolute;left:538px;top:1001.85px;width:120px;height:24px;line-height:24px;text-align:center;font-size:15px;color:#1a1a1a;white-space:nowrap;letter-spacing:0.6px;text-indent:0.6px;transform:scaleX(0.86)">10</div><div style="position:absolute;left:660px;top:1001.85px;width:120px;height:24px;line-height:24px;text-align:center;font-size:15px;color:#1a1a1a;white-space:nowrap;letter-spacing:0.6px;text-indent:0.6px">1.87%</div>
<svg width="1080" height="1901" style="position:absolute;left:0;top:0"><path d="M473,1108 Q699,1122 925,1108 L900,1152 L926,1201.5 Q699,1182 473,1200 L499,1153.5 Z" fill="#f2dfe0"/><path d="M305.8,1742.3 Q549,1754 792.4,1740.6 L764.3,1786.3 L792.4,1835.6 Q549,1818 305.8,1832 L328.7,1784.5 Z" fill="#efe8df"/><polygon points="243.7,1385.4 245.2,1376 250.3,1370 263.5,1368.6 268.6,1370 275.7,1371 282,1365.5 292,1366 296,1365 318.5,1359 320.6,1350.7 327.7,1346.7 326.7,1320.2 340.9,1319.2 350,1323 352,1315 359.4,1297.4 372.4,1301 375,1303 384.4,1300.2 387.2,1285.4 395.6,1283.5 399.3,1277 405.7,1277 407.6,1285.4 414,1291.9 421.5,1295.6 426,1300.2 431.7,1312.2 428,1320.6 429,1331.7 440,1337.2 447,1338 462,1343 473,1353 475,1367 490,1373 503,1373 520,1375 537,1378 553,1383 567,1387 578,1382 600,1376 610,1373 632,1362 652,1354 668,1334 679,1318 693,1309 710,1301 704,1296 688,1293 671,1290 668,1284 677,1271 693,1268 699,1259 696,1246 702,1229 699,1215 710,1209 727,1207 743,1207 754,1223 766,1240 782,1248 799,1254 807,1265 824,1259 838,1250 843,1257 841,1273 838,1293 827,1301 821,1315 829,1323 821,1334 804,1346 791,1354 782,1368 769,1384 756,1390 747,1400 743,1394 748,1380 742,1376 736,1378 727,1390 719,1402 707,1408 706,1417 717,1422 722,1431 729,1432 739,1421 760,1424 749,1433 742,1440 736,1451 729,1460 736,1464 747,1476 753,1487 763,1498 767,1507 764,1518 771,1524 769,1540 764,1553 756,1562 756,1573 749,1584 738,1598 729,1604 713,1616 698,1620 684,1629 669,1633 656,1642 650,1656 647,1666 643,1662 642,1648 628,1652 611,1650 600,1645 594,1634 583,1631 569,1635 547,1642 536,1648 533,1660 528,1655 517,1655 513,1654 505,1642 501,1625 486,1615 491,1598 498,1584 497,1570 491,1562 477,1555 467,1548 450,1550 428,1560 416,1564 395,1558 380,1562 361,1556 347,1554 332,1543 318,1531 298,1513 284,1500 273.5,1490 272,1480.4 281.7,1477.4 282.4,1462.6 290.6,1458 295.7,1449.3 294.3,1440.4 287,1435.2 275.7,1437.4 266,1434.4 257.2,1428.5 255.7,1418 246,1408.5 251.3,1407 252,1390 251.3,1390.5" fill="#9cc89a"/><polyline points="294.3,1441 305,1446 315,1450 322,1449 337,1447 354,1448 368,1445 387,1443 402,1447 413,1452 420,1447 418,1437 415,1426 420,1419 435,1416 450,1413" fill="none" stroke="#eef7ea" stroke-width="2.5" stroke-linejoin="round" stroke-linecap="round"/><polyline points="450,1413 452,1393 462,1387 473,1380 478,1370" fill="none" stroke="#eef7ea" stroke-width="2.5" stroke-linejoin="round" stroke-linecap="round"/><polyline points="405,1453 402,1455 400,1470 406,1486 420,1496 437,1501 456,1507 465,1514 478,1516 485,1507 487,1501 496,1497 511,1497 518.5,1495.6 530,1486 537,1477 546,1464 548,1453 541,1440 525,1432 513,1423 497,1418 480,1423 470,1418 450,1413" fill="none" stroke="#eef7ea" stroke-width="2.5" stroke-linejoin="round" stroke-linecap="round"/><polyline points="490,1373 493,1383 498,1399 510,1398 521,1399 517,1410 524,1417 536,1421 548,1420 552,1416.7 560.7,1419.6 562.2,1427 554.8,1433 557.8,1438.9 565.2,1441.9 574,1452.2 577,1462.6 583,1468.5 590.4,1468.5 591.9,1461 588.9,1447.8 596.3,1441.9 602.2,1437.4 611,1433 620,1419.6 634.8,1410.7 646.7,1401.9 663,1394.4" fill="none" stroke="#eef7ea" stroke-width="2.5" stroke-linejoin="round" stroke-linecap="round"/><polyline points="565.2,1441.9 574,1438.9 578.5,1437.4" fill="none" stroke="#eef7ea" stroke-width="2.5" stroke-linejoin="round" stroke-linecap="round"/><polyline points="591.9,1461 588.9,1481.9 584.4,1493.7 585.9,1504" fill="none" stroke="#eef7ea" stroke-width="2.5" stroke-linejoin="round" stroke-linecap="round"/><polyline points="587.4,1444.8 599.3,1447.8 609.6,1453.7" fill="none" stroke="#eef7ea" stroke-width="2.5" stroke-linejoin="round" stroke-linecap="round"/><polyline points="667.8,1372 663,1379 663,1392 669,1398 670,1408 664,1416 663,1424 669,1433 667,1443 668,1452 667,1460 657,1467 650,1468 636,1473 634,1477 641,1492 644,1498 654,1503 671,1503 680,1508.5 695,1512 702,1518 708,1531" fill="none" stroke="#eef7ea" stroke-width="2.5" stroke-linejoin="round" stroke-linecap="round"/><polyline points="667.8,1372 672,1380 687,1372 690,1368 698,1362 704,1371 708,1377 714,1378 717,1366 722,1367 729,1360 741.5,1352 754,1341" fill="none" stroke="#eef7ea" stroke-width="2.5" stroke-linejoin="round" stroke-linecap="round"/><polyline points="754,1341 751,1337 740,1330 738,1318.5 730,1311 741.5,1304 740,1296 734,1289 749,1274 751,1261 753,1252 754,1233 745,1228 738,1233 727,1233 721,1224 712,1220 708,1211" fill="none" stroke="#eef7ea" stroke-width="2.5" stroke-linejoin="round" stroke-linecap="round"/><polyline points="741.5,1304 751,1306 764,1311 778.5,1311 790,1317 799,1318.5 808,1322 819,1320 827,1324" fill="none" stroke="#eef7ea" stroke-width="2.5" stroke-linejoin="round" stroke-linecap="round"/><polyline points="754,1341 767,1344 775,1352 780,1363" fill="none" stroke="#eef7ea" stroke-width="2.5" stroke-linejoin="round" stroke-linecap="round"/><polyline points="714,1378 716,1383 724,1390" fill="none" stroke="#eef7ea" stroke-width="2.5" stroke-linejoin="round" stroke-linecap="round"/><polyline points="680,1399 687,1386 692,1384 700,1389 701,1397 696,1400 696,1404 688,1406 681,1404 680,1399" fill="none" stroke="#eef7ea" stroke-width="2.5" stroke-linejoin="round" stroke-linecap="round"/><polyline points="696,1398 702,1394 704,1401 708,1407 706,1416 698,1414 696,1407" fill="none" stroke="#eef7ea" stroke-width="2.5" stroke-linejoin="round" stroke-linecap="round"/><polyline points="707,1420 698,1427 690,1433 687,1442 684,1451" fill="none" stroke="#eef7ea" stroke-width="2.5" stroke-linejoin="round" stroke-linecap="round"/><polyline points="668,1452 684,1452 694,1451 683,1464 690,1469 702,1467 709,1471 718,1468 727,1460" fill="none" stroke="#eef7ea" stroke-width="2.5" stroke-linejoin="round" stroke-linecap="round"/><polyline points="702,1467 703,1475 709.6,1477 720.7,1473.3 726.3,1484.4 733.7,1490 730,1501 739.3,1510.4 754,1508.5 765,1503" fill="none" stroke="#eef7ea" stroke-width="2.5" stroke-linejoin="round" stroke-linecap="round"/><polyline points="703,1475 695,1479 687,1494 698.5,1501 695,1512" fill="none" stroke="#eef7ea" stroke-width="2.5" stroke-linejoin="round" stroke-linecap="round"/><polyline points="739.3,1510.4 737.8,1531 731,1535.6 708,1531 684,1536 682,1544" fill="none" stroke="#eef7ea" stroke-width="2.5" stroke-linejoin="round" stroke-linecap="round"/><polyline points="560,1499 563,1499 571,1505.6 580,1502 585.9,1504" fill="none" stroke="#eef7ea" stroke-width="2.5" stroke-linejoin="round" stroke-linecap="round"/><polyline points="530,1486 548,1488 557,1496 560,1499" fill="none" stroke="#eef7ea" stroke-width="2.5" stroke-linejoin="round" stroke-linecap="round"/><polyline points="580,1502 593,1504 608,1499 624,1499 627,1497 640,1495.6 644,1498" fill="none" stroke="#eef7ea" stroke-width="2.5" stroke-linejoin="round" stroke-linecap="round"/><polyline points="640,1495.6 634,1503 632,1512 634,1521 632,1528 627,1530 614,1539 597,1537 578,1534 572,1544 582,1554 586,1561" fill="none" stroke="#eef7ea" stroke-width="2.5" stroke-linejoin="round" stroke-linecap="round"/><polyline points="627,1530 621,1546 624,1550 626,1570 624,1577" fill="none" stroke="#eef7ea" stroke-width="2.5" stroke-linejoin="round" stroke-linecap="round"/><polyline points="624,1548 640,1539 660,1541 671,1540 682,1544" fill="none" stroke="#eef7ea" stroke-width="2.5" stroke-linejoin="round" stroke-linecap="round"/><polyline points="491,1500 497,1526 502,1540 503,1552 506,1564 514,1563 518,1568.5 525,1575 529,1583 534,1593 539,1596 547,1593 550,1583 552,1574 557,1567.5 561,1561 567,1563 567,1571 575,1578 582,1577 586,1561" fill="none" stroke="#eef7ea" stroke-width="2.5" stroke-linejoin="round" stroke-linecap="round"/><polyline points="561,1561 559,1579 561,1587 567,1595 568,1605 573.5,1611 580,1612 587,1619 591,1626 589,1631" fill="none" stroke="#eef7ea" stroke-width="2.5" stroke-linejoin="round" stroke-linecap="round"/><polyline points="571.5,1611 582,1609 592,1606 600,1601 613,1597 624,1594 624.4,1576.7" fill="none" stroke="#eef7ea" stroke-width="2.5" stroke-linejoin="round" stroke-linecap="round"/><polyline points="624.4,1576.7 649,1588 658,1592 664,1599 664,1610 658,1623 653,1637 647,1646 642,1654" fill="none" stroke="#eef7ea" stroke-width="2.5" stroke-linejoin="round" stroke-linecap="round"/><polyline points="664,1599 680,1594 693,1599 711,1597 720,1588" fill="none" stroke="#eef7ea" stroke-width="2.5" stroke-linejoin="round" stroke-linecap="round"/><polyline points="682,1544 680,1558 687,1576 689,1593 693,1599" fill="none" stroke="#eef7ea" stroke-width="2.5" stroke-linejoin="round" stroke-linecap="round"/><polyline points="737.8,1551 724.4,1555.6 717.8,1571 713.3,1593.3 711,1604 724,1604 729,1611" fill="none" stroke="#eef7ea" stroke-width="2.5" stroke-linejoin="round" stroke-linecap="round"/><polyline points="737.8,1551 748.9,1557.8 757.8,1562.2" fill="none" stroke="#eef7ea" stroke-width="2.5" stroke-linejoin="round" stroke-linecap="round"/><polyline points="731,1535.6 737.8,1551" fill="none" stroke="#eef7ea" stroke-width="2.5" stroke-linejoin="round" stroke-linecap="round"/><path d="M630,1690 Q628,1680 640,1675 Q652,1672 655,1676 Q654,1688 642,1695 Q633,1697 630,1690 Z" fill="#9cc89a"/><path d="M772,1620 Q770,1604 778,1596 Q784,1590 787,1595 Q787,1608 778,1622 Q774,1625 772,1620 Z" fill="#9cc89a"/><rect x="790" y="1619.3" width="57.8" height="85.6" fill="#eeeeee" stroke="#8a8a8a" stroke-width="1.2"/><path d="M791,1620 L826,1620 Q820,1626 800,1630 L791,1629 Z" fill="#9cc89a"/><ellipse cx="798.5" cy="1637" rx="5.5" ry="4" fill="#9cc89a"/><path d="M790.5,1648 Q800,1652 800,1665 Q798,1675 790.5,1678 Z" fill="#9cc89a"/><path d="M847.5,1635 Q840,1640 841,1650 Q842,1657 847.5,1657 Z" fill="#9cc89a"/><path d="M818,1704.5 Q825,1693 836,1688 Q843,1692 844,1700 L840,1704.5 Z" fill="#9cc89a"/><line x1="844" y1="1628.8" x2="846" y2="1627.6" stroke="#111" stroke-width="2.2" stroke-linecap="round"/><line x1="840.2" y1="1636.5" x2="837.6" y2="1640.6" stroke="#111" stroke-width="2.2" stroke-linecap="round"/><line x1="838.5" y1="1649.5" x2="838.6" y2="1653.8" stroke="#111" stroke-width="2.2" stroke-linecap="round"/><line x1="839" y1="1666.2" x2="837" y2="1670.4" stroke="#111" stroke-width="2.2" stroke-linecap="round"/><line x1="829" y1="1685.4" x2="826.6" y2="1688.8" stroke="#111" stroke-width="2.2" stroke-linecap="round"/><line x1="803" y1="1667.8" x2="801.4" y2="1671.6" stroke="#111" stroke-width="2.2" stroke-linecap="round"/><line x1="794.7" y1="1689.5" x2="795" y2="1693.2" stroke="#111" stroke-width="2.2" stroke-linecap="round"/><line x1="810.5" y1="1703.8" x2="814.6" y2="1703.4" stroke="#111" stroke-width="2.2" stroke-linecap="round"/><ellipse cx="369.9" cy="1393.5" rx="19" ry="13" fill="#f4878b"/><path d="M359.45,1403.25 Q364.2,1407.15 364.2,1412.5 Q369.9,1406.5 374.65,1405.46 Z" fill="#f4878b"/><ellipse cx="482" cy="1400" rx="15" ry="11" fill="#f4878b"/><path d="M473.75,1408.25 Q477.5,1411.55 477.5,1417 Q482,1411.0 485.75,1410.12 Z" fill="#f4878b"/><ellipse cx="650.3" cy="1367" rx="17" ry="12" fill="#f4878b"/><path d="M640.9499999999999,1376.0 Q645.1999999999999,1379.6 645.1999999999999,1385 Q650.3,1379.0 654.55,1378.04 Z" fill="#f4878b"/><ellipse cx="586.5" cy="1430.5" rx="15" ry="11" fill="#f4878b"/><path d="M578.25,1438.75 Q582.0,1442.05 582.0,1447.5 Q586.5,1441.5 590.25,1440.62 Z" fill="#f4878b"/><ellipse cx="629.9" cy="1456" rx="17" ry="11.5" fill="#f4878b"/><path d="M620.55,1464.625 Q624.8,1468.075 624.8,1473.5 Q629.9,1467.5 634.15,1466.58 Z" fill="#f4878b"/><ellipse cx="464.3" cy="1480" rx="15.5" ry="11" fill="#f4878b"/><path d="M455.77500000000003,1488.25 Q459.65000000000003,1491.55 459.65000000000003,1497 Q464.3,1491.0 468.175,1490.12 Z" fill="#f4878b"/><ellipse cx="361.1" cy="1516.5" rx="19" ry="13" fill="#f4878b"/><path d="M350.65000000000003,1526.25 Q355.40000000000003,1530.15 355.40000000000003,1535.5 Q361.1,1529.5 365.85,1528.46 Z" fill="#f4878b"/><ellipse cx="527.9" cy="1532.5" rx="24" ry="15" fill="#f4878b"/><path d="M514.6999999999999,1543.75 Q520.6999999999999,1548.25 520.6999999999999,1553.5 Q527.9,1547.5 533.9,1546.3 Z" fill="#f4878b"/><ellipse cx="608.75" cy="1528" rx="17" ry="11.5" fill="#f4878b"/><path d="M599.4,1536.625 Q603.65,1540.075 603.65,1545.5 Q608.75,1539.5 613.0,1538.58 Z" fill="#f4878b"/><ellipse cx="591.25" cy="1587" rx="18" ry="11" fill="#f4878b"/><path d="M581.35,1595.25 Q585.85,1598.55 585.85,1604 Q591.25,1598.0 595.75,1597.12 Z" fill="#f4878b"/><ellipse cx="529.6" cy="1622.5" rx="18" ry="12.5" fill="#f4878b"/><path d="M519.7,1631.875 Q524.2,1635.625 524.2,1641.0 Q529.6,1635.0 534.1,1634.0 Z" fill="#f4878b"/><ellipse cx="634.2" cy="1622.5" rx="17.5" ry="12" fill="#f4878b"/><path d="M624.575,1631.5 Q628.95,1635.1 628.95,1640.5 Q634.2,1634.5 638.575,1633.54 Z" fill="#f4878b"/><ellipse cx="543.8" cy="1293" rx="20.8" ry="13" fill="#f4878b"/><path d="M534,1303 L536.9,1312.4 L545,1304 Z" fill="#f4878b"/></svg><div style="position:absolute;left:320px;top:1347.6px;width:100px;height:14px;line-height:14px;text-align:center;font-size:12.5px;color:#1f331f;white-space:nowrap;font-weight:bold;letter-spacing:1px;text-indent:1px">新疆</div><div style="position:absolute;left:311.4px;top:1363.8px;width:120px;height:14px;line-height:14px;text-align:center;font-size:14.5px;color:#1f331f;white-space:nowrap;letter-spacing:1.2px;text-indent:1.2px;-webkit-text-stroke:0.3px #1f331f">2/6/17</div><div style="position:absolute;left:339.9px;top:1382.5px;width:60px;height:22px;line-height:22px;text-align:center;font-size:19px;color:#7a3340;white-space:nowrap;letter-spacing:0.5px;-webkit-text-stroke:0.5px #7a3340">25</div><div style="position:absolute;left:434.3px;top:1357.8px;width:100px;height:14px;line-height:14px;text-align:center;font-size:12.5px;color:#1f331f;white-space:nowrap;font-weight:bold;letter-spacing:1px;text-indent:1px">甘肃</div><div style="position:absolute;left:422.9px;top:1373.3px;width:120px;height:14px;line-height:14px;text-align:center;font-size:14.5px;color:#1f331f;white-space:nowrap;letter-spacing:1.2px;text-indent:1.2px;-webkit-text-stroke:0.3px #1f331f">0/2/5</div><div style="position:absolute;left:452px;top:1389px;width:60px;height:22px;line-height:22px;text-align:center;font-size:19px;color:#7a3340;white-space:nowrap;letter-spacing:0.5px;-webkit-text-stroke:0.5px #7a3340">7</div><div style="position:absolute;left:602.3px;top:1327.5px;width:100px;height:14px;line-height:14px;text-align:center;font-size:12.5px;color:#1f331f;white-space:nowrap;font-weight:bold;letter-spacing:1px;text-indent:1px">内蒙古</div><div style="position:absolute;left:592.4px;top:1341.3px;width:120px;height:14px;line-height:14px;text-align:center;font-size:14.5px;color:#1f331f;white-space:nowrap;letter-spacing:1.2px;text-indent:1.2px;-webkit-text-stroke:0.3px #1f331f">3/5/3</div><div style="position:absolute;left:620.3px;top:1356px;width:60px;height:22px;line-height:22px;text-align:center;font-size:19px;color:#7a3340;white-space:nowrap;letter-spacing:0.5px;-webkit-text-stroke:0.5px #7a3340">11</div><div style="position:absolute;left:540.7px;top:1391.8px;width:100px;height:14px;line-height:14px;text-align:center;font-size:12.5px;color:#1f331f;white-space:nowrap;font-weight:bold;letter-spacing:1px;text-indent:1px">宁夏</div><div style="position:absolute;left:528.6px;top:1407.5px;width:120px;height:14px;line-height:14px;text-align:center;font-size:14.5px;color:#1f331f;white-space:nowrap;letter-spacing:1.2px;text-indent:1.2px;-webkit-text-stroke:0.3px #1f331f">0/1/2</div><div style="position:absolute;left:556.5px;top:1419.5px;width:60px;height:22px;line-height:22px;text-align:center;font-size:19px;color:#7a3340;white-space:nowrap;letter-spacing:0.5px;-webkit-text-stroke:0.5px #7a3340">3</div><div style="position:absolute;left:590.7px;top:1417px;width:100px;height:14px;line-height:14px;text-align:center;font-size:12.5px;color:#1f331f;white-space:nowrap;font-weight:bold;letter-spacing:1px;text-indent:1px">陕西</div><div style="position:absolute;left:576.7px;top:1432.8px;width:120px;height:14px;line-height:14px;text-align:center;font-size:14.5px;color:#1f331f;white-space:nowrap;letter-spacing:1.2px;text-indent:1.2px;-webkit-text-stroke:0.3px #1f331f">8/21/14</div><div style="position:absolute;left:599.9px;top:1445px;width:60px;height:22px;line-height:22px;text-align:center;font-size:19px;color:#7a3340;white-space:nowrap;letter-spacing:0.5px;-webkit-text-stroke:0.5px #7a3340">43</div><div style="position:absolute;left:416.9px;top:1436.8px;width:100px;height:14px;line-height:14px;text-align:center;font-size:12.5px;color:#1f331f;white-space:nowrap;font-weight:bold;letter-spacing:1px;text-indent:1px">青海</div><div style="position:absolute;left:405px;top:1453px;width:120px;height:14px;line-height:14px;text-align:center;font-size:14.5px;color:#1f331f;white-space:nowrap;letter-spacing:1.2px;text-indent:1.2px;-webkit-text-stroke:0.3px #1f331f">0/1/2</div><div style="position:absolute;left:434.3px;top:1469px;width:60px;height:22px;line-height:22px;text-align:center;font-size:19px;color:#7a3340;white-space:nowrap;letter-spacing:0.5px;-webkit-text-stroke:0.5px #7a3340">3</div><div style="position:absolute;left:308.8px;top:1470px;width:100px;height:14px;line-height:14px;text-align:center;font-size:12.5px;color:#1f331f;white-space:nowrap;font-weight:bold;letter-spacing:1px;text-indent:1px">西藏</div><div style="position:absolute;left:300.5px;top:1485px;width:120px;height:14px;line-height:14px;text-align:center;font-size:14.5px;color:#1f331f;white-space:nowrap;letter-spacing:1.2px;text-indent:1.2px;-webkit-text-stroke:0.3px #1f331f">0/1/25</div><div style="position:absolute;left:331.1px;top:1505.5px;width:60px;height:22px;line-height:22px;text-align:center;font-size:19px;color:#7a3340;white-space:nowrap;letter-spacing:0.5px;-webkit-text-stroke:0.5px #7a3340">26</div><div style="position:absolute;left:478.75px;top:1487px;width:100px;height:14px;line-height:14px;text-align:center;font-size:12.5px;color:#1f331f;white-space:nowrap;font-weight:bold;letter-spacing:1px;text-indent:1px">四川</div><div style="position:absolute;left:465.8px;top:1501.3px;width:120px;height:14px;line-height:14px;text-align:center;font-size:14.5px;color:#1f331f;white-space:nowrap;letter-spacing:1.2px;text-indent:1.2px;-webkit-text-stroke:0.3px #1f331f">5/45/26</div><div style="position:absolute;left:497.9px;top:1521.5px;width:60px;height:22px;line-height:22px;text-align:center;font-size:19px;color:#7a3340;white-space:nowrap;letter-spacing:0.5px;-webkit-text-stroke:0.5px #7a3340">76</div><div style="position:absolute;left:563px;top:1493px;width:100px;height:14px;line-height:14px;text-align:center;font-size:12.5px;color:#1f331f;white-space:nowrap;font-weight:bold;letter-spacing:1px;text-indent:1px">重庆</div><div style="position:absolute;left:550px;top:1504.7px;width:120px;height:14px;line-height:14px;text-align:center;font-size:14.5px;color:#1f331f;white-space:nowrap;letter-spacing:1.2px;text-indent:1.2px;-webkit-text-stroke:0.3px #1f331f">4/29/13</div><div style="position:absolute;left:578.75px;top:1517px;width:60px;height:22px;line-height:22px;text-align:center;font-size:19px;color:#7a3340;white-space:nowrap;letter-spacing:0.5px;-webkit-text-stroke:0.5px #7a3340">46</div><div style="position:absolute;left:550px;top:1551px;width:100px;height:14px;line-height:14px;text-align:center;font-size:12.5px;color:#1f331f;white-space:nowrap;font-weight:bold;letter-spacing:1px;text-indent:1px">贵州</div><div style="position:absolute;left:537.5px;top:1564px;width:120px;height:14px;line-height:14px;text-align:center;font-size:14.5px;color:#1f331f;white-space:nowrap;letter-spacing:1.2px;text-indent:1.2px;-webkit-text-stroke:0.3px #1f331f">5/12/20</div><div style="position:absolute;left:561.25px;top:1576px;width:60px;height:22px;line-height:22px;text-align:center;font-size:19px;color:#7a3340;white-space:nowrap;letter-spacing:0.5px;-webkit-text-stroke:0.5px #7a3340">37</div><div style="position:absolute;left:477px;top:1580.5px;width:100px;height:14px;line-height:14px;text-align:center;font-size:12.5px;color:#1f331f;white-space:nowrap;font-weight:bold;letter-spacing:1px;text-indent:1px">云南</div><div style="position:absolute;left:469.6px;top:1595px;width:120px;height:14px;line-height:14px;text-align:center;font-size:14.5px;color:#1f331f;white-space:nowrap;letter-spacing:1.2px;text-indent:1.2px;-webkit-text-stroke:0.3px #1f331f">1/15/8</div><div style="position:absolute;left:499.6px;top:1611.5px;width:60px;height:22px;line-height:22px;text-align:center;font-size:19px;color:#7a3340;white-space:nowrap;letter-spacing:0.5px;-webkit-text-stroke:0.5px #7a3340">24</div><div style="position:absolute;left:588.75px;top:1580.5px;width:100px;height:14px;line-height:14px;text-align:center;font-size:12.5px;color:#1f331f;white-space:nowrap;font-weight:bold;letter-spacing:1px;text-indent:1px">广西</div><div style="position:absolute;left:574.6px;top:1595px;width:120px;height:14px;line-height:14px;text-align:center;font-size:14.5px;color:#1f331f;white-space:nowrap;letter-spacing:1.2px;text-indent:1.2px;-webkit-text-stroke:0.3px #1f331f">2/10/11</div><div style="position:absolute;left:604.2px;top:1611.5px;width:60px;height:22px;line-height:22px;text-align:center;font-size:19px;color:#7a3340;white-space:nowrap;letter-spacing:0.5px;-webkit-text-stroke:0.5px #7a3340">23</div><div style="position:absolute;left:455.8px;top:1245.7px;width:200px;height:14px;line-height:14px;text-align:center;font-size:13px;color:#1e1e1e;white-space:nowrap;font-weight:bold;letter-spacing:1.2px;text-indent:1.2px">省、自治区、直辖市</div><div style="position:absolute;left:451.6px;top:1260.5px;width:200px;height:14px;line-height:14px;text-align:center;font-size:13px;color:#1e1e1e;white-space:nowrap;font-weight:bold;letter-spacing:0.3px">博士生／硕士生／本科生</div><div style="position:absolute;left:523.8px;top:1283px;width:40px;height:20px;line-height:20px;text-align:center;font-size:16px;color:#7d3040;white-space:nowrap;">总</div><div style="position:absolute;left:512px;top:1122px;font-size:19px;line-height:31px;color:#1d1d1d;white-space:nowrap;letter-spacing:2.3px;font-weight:bold"><span style="letter-spacing:0.3px">2018</span>届毕业生中共计<span style="color:#c23a4c;letter-spacing:0">324</span><span style="color:#c23a4c">人</span>前往西部就业<span style="letter-spacing:0">,</span><br>其中博士<span style="color:#c23a4c;letter-spacing:0">30</span><span style="color:#c23a4c">人</span><span style="letter-spacing:0">,&nbsp;</span>硕士<span style="color:#c23a4c;letter-spacing:0">148</span><span style="color:#c23a4c">人</span><span style="letter-spacing:0">,&nbsp;</span>本科<span style="color:#c23a4c;letter-spacing:0">146</span><span style="color:#c23a4c">人</span>。</div><div style="position:absolute;left:342px;top:1762.0px;height:24px;line-height:24px;font-size:20px;color:#625e59;white-space:nowrap;font-weight:bold;letter-spacing:1.8px">特别策划</div><div style="position:absolute;left:444.5px;top:1763px;width:2.5px;height:22.4px;background:#5c5954;"></div><div style="position:absolute;left:465px;top:1762.0px;height:24px;line-height:24px;font-size:20px;color:#625e59;white-space:nowrap;font-weight:bold;letter-spacing:1.8px">同济大学学生就业指导中心</div><div style="position:absolute;left:374.5px;top:1793.0px;height:24px;line-height:24px;font-size:20px;color:#625e59;white-space:nowrap;font-weight:bold;letter-spacing:1.8px">设计排版</div><div style="position:absolute;left:477.5px;top:1793px;width:2.5px;height:22.7px;background:#5c5954;"></div><div style="position:absolute;left:494.5px;top:1793.0px;height:24px;line-height:24px;font-size:20px;color:#625e59;white-space:nowrap;font-weight:bold;letter-spacing:1.8px">马倩</div><div style="position:absolute;left:552px;top:1793.0px;height:24px;line-height:24px;font-size:20px;color:#625e59;white-space:nowrap;font-weight:bold;letter-spacing:1.8px">李潇悦</div><div style="position:absolute;left:629.5px;top:1793.0px;height:24px;line-height:24px;font-size:20px;color:#625e59;white-space:nowrap;font-weight:bold;letter-spacing:1.8px">周俊燊</div><div style="position:absolute;left:43.3px;top:1821px;width:43.4px;height:6.8px;background:#f5b77b;"></div><div style="position:absolute;left:43.3px;top:1832.5px;width:43.4px;height:6.5px;background:#f5b77b;"></div><div style="position:absolute;left:80.5px;top:1821px;width:6.2px;height:18px;background:#f5b77b;"></div><div style="position:absolute;left:57px;top:1810px;width:18px;height:6px;background:#f5b77b;"></div><div style="position:absolute;left:57px;top:1810px;width:6.5px;height:29px;background:#f5b77b;"></div><div style="position:absolute;left:69px;top:1810px;width:6px;height:29px;background:#f5b77b;"></div><div style="position:absolute;left:43.3px;top:1833px;width:5.2px;height:18.5px;background:#f5b77b;"></div><div style="position:absolute;left:43.3px;top:1846.3px;width:20px;height:5.2px;background:#f5b77b;"></div><div style="position:absolute;left:57.5px;top:1833px;width:5.8px;height:18.5px;background:#f5b77b;"></div><div style="position:absolute;left:69.3px;top:1838px;width:5.9px;height:13.5px;background:#f5b77b;"></div><div style="position:absolute;left:996.1px;top:1821px;width:43.4px;height:6.8px;background:#f5b77b;"></div><div style="position:absolute;left:996.1px;top:1832.5px;width:43.4px;height:6.5px;background:#f5b77b;"></div><div style="position:absolute;left:996.1px;top:1821px;width:6.2px;height:18px;background:#f5b77b;"></div><div style="position:absolute;left:1007.8px;top:1810px;width:18px;height:6px;background:#f5b77b;"></div><div style="position:absolute;left:1019.3px;top:1810px;width:6.5px;height:29px;background:#f5b77b;"></div><div style="position:absolute;left:1007.8px;top:1810px;width:6px;height:29px;background:#f5b77b;"></div><div style="position:absolute;left:1034.3px;top:1833px;width:5.2px;height:18.5px;background:#f5b77b;"></div><div style="position:absolute;left:1019.5px;top:1846.3px;width:20px;height:5.2px;background:#f5b77b;"></div><div style="position:absolute;left:1019.5px;top:1833px;width:5.8px;height:18.5px;background:#f5b77b;"></div><div style="position:absolute;left:1007.6px;top:1838px;width:5.9px;height:13.5px;background:#f5b77b;"></div>
</body></html>
